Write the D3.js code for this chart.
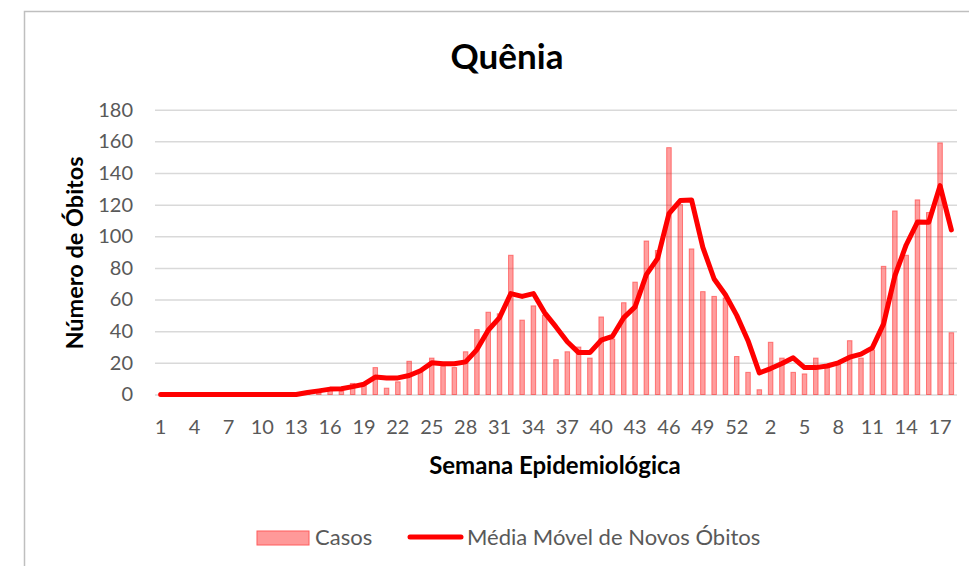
<!DOCTYPE html>
<html>
<head>
<meta charset="utf-8">
<script src="https://cdn.jsdelivr.net/npm/d3@7"></script>
<style>
  html, body { margin: 0; padding: 0; background: #fff; }
  svg { display: block; font-family: Lato, "Open Sans", sans-serif; }
</style>
</head>
<body>
<svg id="chart" width="969" height="566"></svg>
<script>
// ---------- data ----------
const semanas = [
  "1","2","3","4","5","6","7","8","9","10","11","12","13","14","15","16","17","18","19","20",
  "21","22","23","24","25","26","27","28","29","30","31","32","33","34","35","36","37","38","39","40",
  "41","42","43","44","45","46","47","48","49","50","51","52","53",
  "1","2","3","4","5","6","7","8","9","10","11","12","13","14","15","16","17","18"
];
const casos = [
  0,0,0,0,0,0,0,0,0,0,0,0,0,1,1,3,2,7,7,17,
  4,8,21,15,23,18,17,27,41,52,51,88,47,56,50,22,27,30,23,49,
  35,58,71,97,91,156,120,92,65,62,61,24,14,
  3,33,23,14,13,23,17,19,34,23,28,81,116,88,123,115,159,39
];
const mediaMovel = [
  0,0,0,0,0,0,0,0,0,0,0,0,0,1.3,2.3,3.4,3.6,5,6.5,11,
  10.5,10.5,12,15,20,19.4,19.4,20.6,28.4,40.6,48.6,63.8,62,63.8,51.6,42.7,33.3,26.5,26.5,34.3,
  36.8,48.6,55.4,75.8,86,114.3,122.6,123,93,73,63,50,34,
  13.7,16.4,19.6,23.2,17,17,18,20,23.6,25.5,29.5,44.6,75,94.5,109,108.8,132,104
];
const yTicks = [0,20,40,60,80,100,120,140,160,180];
const titulo = "Quênia";
const tituloY = "Número de Óbitos";
const tituloX = "Semana Epidemiológica";
const legendas = ["Casos", "Média Móvel de Novos Óbitos"];

// ---------- layout ----------
const svg = d3.select("#chart");
const plot = { left: 155, right: 957, top: 109.7, bottom: 394.5 };
const idx = semanas.map((d, i) => i);

const x = d3.scaleBand().domain(idx).range([plot.left, plot.right]).paddingInner(0.6).paddingOuter(0.3);
const xc = i => x(i) + x.bandwidth() / 2;
const y = d3.scaleLinear().domain([0, 180]).range([plot.bottom, plot.top]);

// frame
svg.append("path")
  .attr("d", "M24.5,566 L24.5,11.5 L969,11.5")
  .attr("fill", "none").attr("stroke", "#bfbfbf").attr("stroke-width", 1.5);

// title
svg.append("text").attr("x", 507).attr("y", 69).attr("text-anchor", "middle")
  .attr("font-size", 35).attr("font-weight", "bold").attr("fill", "#000").text(titulo);

// grid + y axis
const yAxis = d3.axisLeft(y).tickValues(yTicks).tickSize(-(plot.right - plot.left)).tickPadding(22);
const gy = svg.append("g").attr("transform", `translate(${plot.left},0)`).call(yAxis);
gy.select(".domain").remove();
gy.selectAll(".tick line").attr("stroke", "#d9d9d9").attr("stroke-width", 1.5);
gy.selectAll(".tick text").attr("fill", "#595959").attr("font-size", 20).attr("font-family", "Lato, sans-serif");

// x axis
const xAxis = d3.axisBottom(x).tickValues(idx.filter(i => i % 3 === 0)).tickFormat(i => semanas[i]).tickSize(0).tickPadding(25);
const gx = svg.append("g").attr("transform", `translate(0,${plot.bottom})`).call(xAxis);
gx.select(".domain").remove();
gx.selectAll(".tick text").attr("fill", "#595959").attr("font-size", 20).attr("font-family", "Lato, sans-serif");

// bars
svg.append("g").selectAll("rect").data(casos).join("rect")
  .attr("x", (d, i) => x(i))
  .attr("y", d => y(d))
  .attr("width", x.bandwidth())
  .attr("height", d => y(0) - y(d))
  .attr("fill", "rgba(255,0,0,0.38)")
  .attr("stroke", "rgba(255,40,40,0.55)")
  .attr("stroke-width", 1);

// line
const line = d3.line().x((d, i) => xc(i)).y(d => y(d));
svg.append("path").datum(mediaMovel)
  .attr("d", line).attr("fill", "none").attr("stroke", "#ff0000")
  .attr("stroke-width", 5).attr("stroke-linejoin", "round").attr("stroke-linecap", "round");

// axis titles
svg.append("text").attr("transform", "translate(83,253) rotate(-90)").attr("text-anchor", "middle")
  .attr("font-size", 23.5).attr("font-weight", "bold").attr("fill", "#000").text(tituloY);
svg.append("text").attr("x", 555).attr("y", 474).attr("text-anchor", "middle")
  .attr("font-size", 24).attr("font-weight", "bold").attr("fill", "#000").text(tituloX);

// legend
const lg = svg.append("g");
lg.append("rect").attr("x", 257).attr("y", 531).attr("width", 52).attr("height", 14)
  .attr("fill", "#ff9999").attr("stroke", "#ff5c5c").attr("stroke-width", 1);
lg.append("text").attr("x", 315).attr("y", 545).attr("font-size", 22).attr("fill", "#595959").text(legendas[0]);
lg.append("line").attr("x1", 410).attr("x2", 461).attr("y1", 537).attr("y2", 537)
  .attr("stroke", "#ff0000").attr("stroke-width", 5).attr("stroke-linecap", "round");
lg.append("text").attr("x", 467).attr("y", 545).attr("font-size", 22).attr("fill", "#595959").text(legendas[1]);
</script>
</body>
</html>
